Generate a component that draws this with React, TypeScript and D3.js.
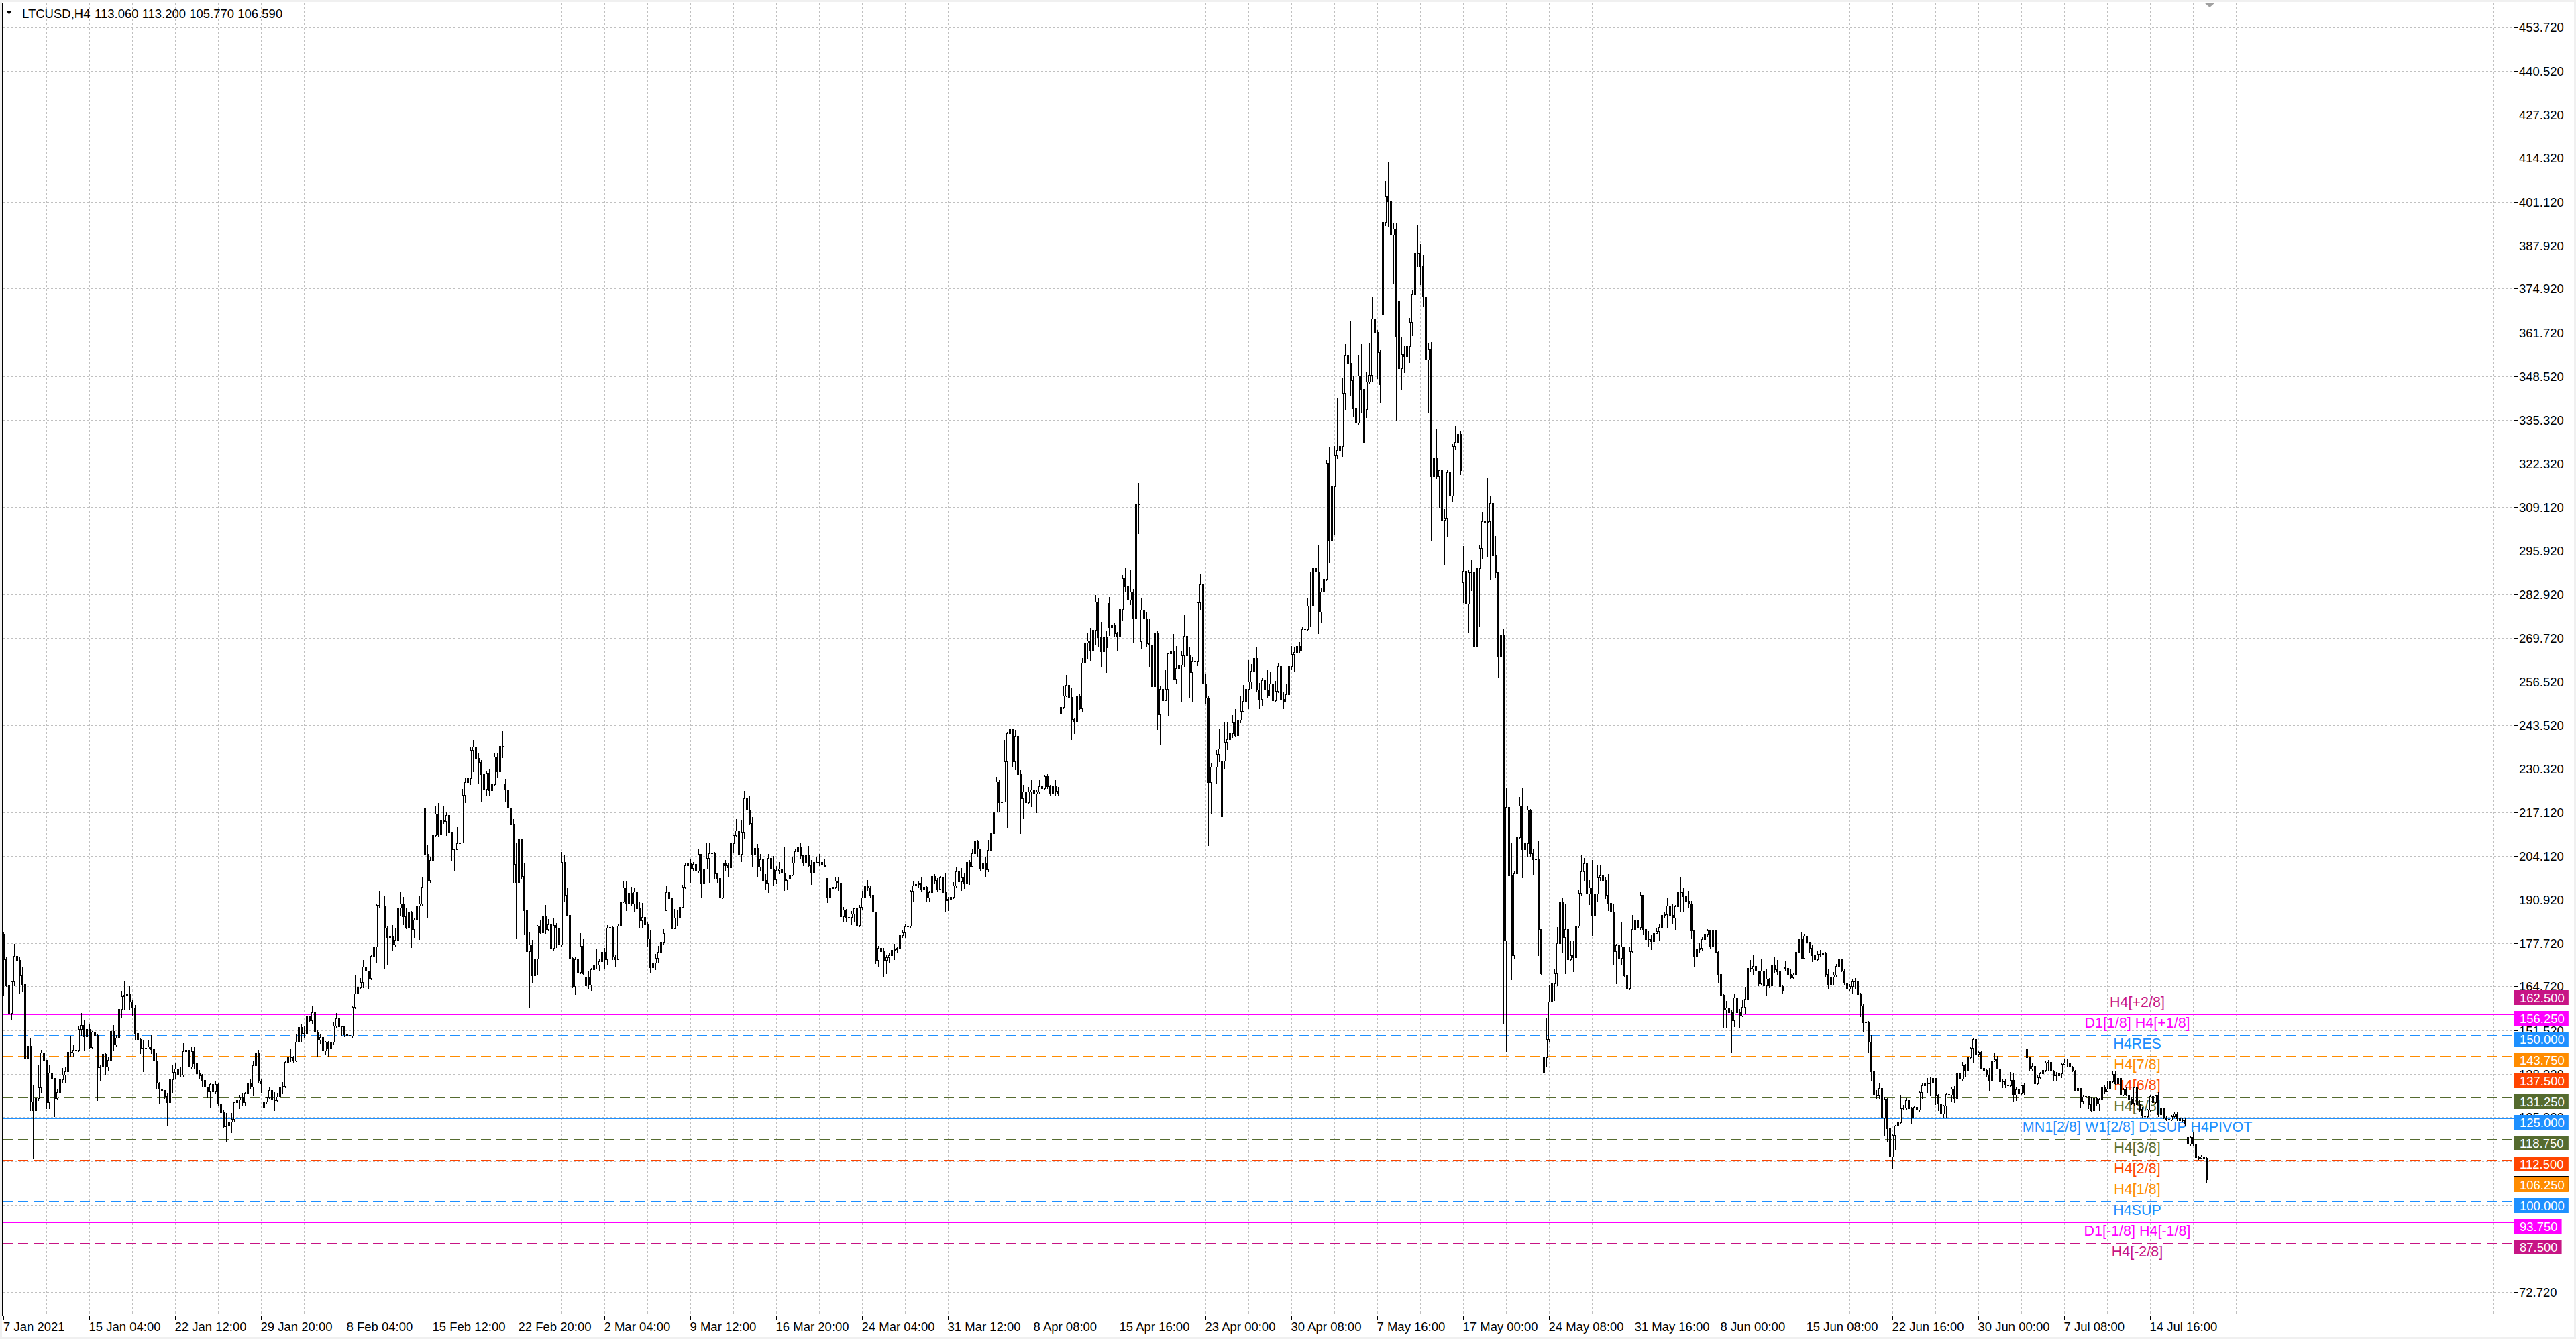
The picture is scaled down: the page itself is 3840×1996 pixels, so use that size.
import React from "react";
import * as d3 from "d3";

const chartSymbol = "LTCUSD,H4";
const lastBarOHLC = ["113.060", "113.200", "105.770", "106.590"];
const currentPrice = 106.59;

const firstOpen = 180.6;
// one row per H4 bar: [close, high, low]; open = previous close unless listed in gapOpens
const barsCHL: number[][] = [
[172.9,181,162],[165.1,173.5,164.8],[156.7,166,149.6],[166.2,166.5,154.7],[174,177.5,165],[172.6,181.3,167],[168,173.5,162.7],[165.5,170.4,163.1],[142.9,166.2,124.4],[146.8,147.6,134.5],
[130.1,149,127.4],[127.4,134.8,113],[131,132.8,120.3],[134.2,141,130.5],[144.9,145.6,132.8],[142.6,147.1,137.2],[129.8,142.6,128.1],[138.7,141.2,128.1],[137.2,140.6,134.5],[131.1,137.2,125.7],
[132.9,133.8,130.8],[136.7,139.9,132.9],[138.2,140.2,136],[139.1,140.5,136],[145.1,145.9,138.7],[144.9,149.7,143.6],[145.7,147,143.6],[145.7,149,145],[151.9,152.7,145.3],[153,156.7,150],
[149.6,154.7,145.6],[151.9,155.4,148.1],[146.5,153.4,146],[151,151.3,146],[150,151.2,149.5],[140.4,150.3,130.5],[140.5,141.2,136.5],[144.5,145.5,140],[140.5,144.6,138.4],[142.5,143.3,139.4],
[151.3,154.8,139.9],[147.3,153,145.6],[149.3,150,146.6],[157.9,158.4,148.7],[161.8,163.4,155.4],[162.1,166.4,157.7],[162.5,164.8,157.4],[160.1,164.8,157.7],[158.4,160.5,156],[150.7,159.1,148.6],
[148.9,154.4,145],[146.3,149,144.7],[146.3,148.6,139.2],[146.1,146.5,138],[146.6,148.6,146],[145.9,150,144.6],[142.4,146,140.6],[135.8,144.7,133.8],[133.8,136,129.4],[133.5,135,129.4],
[131.7,133.5,131.1],[129.8,132.5,122.9],[136.7,136.9,129.4],[139,141.2,132.8],[139.9,141.7,137.2],[138.2,141,137.2],[138.2,140.6,137.5],[145.3,147.6,137.5],[145.6,147.6,144.2],[140.5,146.6,139.9],
[145.3,146.6,139.9],[141.6,146.6,139.9],[138.5,142,136.9],[138,139.6,136.9],[136.5,138.3,134.5],[134.4,136.6,133.2],[133.1,134.5,131.3],[135.3,135.5,128.3],[133.1,136.4,132.7],[135.3,136.2,132.5],
[129.5,135.8,128.8],[126.9,130,126.1],[122.5,127.4,122.4],[122.8,126.7,118],[123.9,125.1,120.3],[124.7,126.7,120.7],[129.8,129.9,124.2],[130.6,131.8,128.3],[131.3,131.8,128],[129.8,132.6,128.8],
[132.5,132.8,128.8],[135.6,138.5,132.5],[134.5,137,133.8],[140.9,142.2,131.8],[144.7,145.6,137],[136.3,145.6,135.9],[135.5,136.7,132.8],[130.1,134.5,125.9],[131.3,131.5,129.5],[133.5,134.5,131.1],
[130.6,136.5,130.5],[130.5,132.8,127.4],[131.5,132.4,130.1],[134.4,135.5,130.4],[134.6,136,132.5],[141.9,142.3,134.3],[143.4,145.4,140.6],[143.5,145.8,142.2],[142.3,143.8,141.9],[148,150.2,142.1],
[152.4,155.2,147.3],[150.7,153.3,148.3],[150.7,152.9,149.3],[155.7,155.9,149.5],[154.6,156,154],[157,158.7,153.7],[151.1,157.3,148.9],[148.7,151.5,143.6],[149.5,150.2,147.6],[145.4,149.8,141],
[148,148.2,144.5],[146,148.3,143.5],[148,148.3,145],[152.9,153.9,147.5],[155.2,156.8,152.4],[152.6,156.1,150],[152.6,152.8,149.8],[150.2,152.6,149.6],[150,152.4,147.6],[149.8,151,149.2],
[158.5,159,149.2],[162.5,168.2,158.1],[164.5,165.1,160.8],[166,167.3,164.2],[170.6,172.7,164.5],[169.5,174.5,167.7],[167.3,169.5,164.3],[173.9,174.3,166.9],[176.8,178,173.7],[189.2,189.6,172.1],
[189,193.6,188.4],[189,195.2,188.4],[182.4,192,170.1],[179.6,182.8,171.4],[180,181.8,174.5],[177.3,183.3,175.6],[178.7,182.4,177],[188.5,188.8,178.3],[189.7,193.4,186.2],[185.9,191.6,183.5],
[182.4,188.4,182.2],[187.1,188.4,183.1],[182,187.5,176.5],[184.8,185.3,179.6],[189,189.6,184.4],[189.7,192,178.9],[194.7,197.8,189.2],[204.6,218.6,204],[196.7,207.2,185.4],[202.8,203.7,196.2],
[210.3,212.4,202.4],[216.7,219.2,209.8],[210.7,219.9,210.1],[214.8,215.3,200.6],[214.6,219,213.8],[216.4,217.4,210.3],[211.3,221.8,210.3],[206.1,211.3,202.8],[206.1,206.3,199.7],[207.8,212.7,206.7],
[208.1,214.4,203.4],[222.4,224.3,208],[226.2,227.4,220.1],[227.4,232.3,224.1],[235.9,237,225.6],[237,239,229.5],[233.5,237.4,227.3],[232.3,235,226],[228.7,233,220.6],[224.3,231.7,223],
[228.8,229.4,222.3],[223.8,230.2,222.5],[225.6,227.4,219.9],[233.9,235.2,225.2],[229.4,235.2,227.8],[237.2,237.4,226.7],[237.2,241.6,233.7],[224,227.3,220.5],[218.6,226.2,217.3],[213.6,218.6,211.8],
[201.5,215.1,196.1],[196.2,207.8,179.2],[209.2,209.4,193.6],[198,208.5,197.1],[187.6,201.7,180.3],[175.4,194.3,156.6],[177.3,180.9,158.6],[168,178.7,166],[173,174.2,160.1],[183.1,183.3,168.4],
[180.9,184.7,180.5],[186,188.8,180.5],[182,189.2,180.5],[183.5,185.1,181.5],[176.4,185,172.6],[183.3,185.3,175.5],[182.3,183.8,176.5],[177.3,183.4,175],[202.3,205.2,177],[192.2,204.2,190.4],
[186.2,194.5,186],[173.2,187.7,169.4],[164.8,173.6,164.5],[172.9,173.7,162.3],[169,173.6,168.8],[176.9,180.7,168.7],[168.7,179,168.5],[167.7,168.9,164.1],[165.2,169.5,164.1],[169.9,170.3,163.6],
[171.2,173.7,169.2],[171.2,176.1,170.2],[172.2,172.9,169.5],[175.1,179.3,172.2],[172.8,176.3,170.2],[182.3,183.3,171.2],[182.5,184.7,176.3],[173.7,182.9,172.9],[172.8,174.2,170.8],[183,183.7,173.6],
[190.3,191.4,181.1],[194.6,196.3,190.1],[189.7,196.4,187.7],[192.9,194.1,186.5],[189.7,194.7,189.3],[193.3,194.5,187.4],[188.3,194.5,183],[184.7,190.1,182.3],[185.6,189.8,182.3],[183.4,189.2,182.3],
[179.1,184.2,177],[170.5,181.7,169],[171.9,173.6,168.5],[173.4,174.6,169.9],[175.1,176.9,171.9],[178.2,178.9,171],[180.7,182,177.6],[193.1,195.1,187.6],[191.2,193.3,191.1],[182.2,191.4,179.3],
[185.4,188,182.1],[185.5,187.7,183],[188.6,190.1,185.3],[194.7,195.3,188.4],[201.2,201.7,194.4],[201.8,204.8,200.9],[200.3,203,196],[201.5,202.2,199.8],[199.5,201.8,198.8],[204.6,206,199.2],
[195.8,203.9,191.4],[200.2,201.2,195.4],[203.4,207.8,200.2],[204.9,208.1,196.1],[205,208,204.2],[198.8,205.2,197.1],[197.3,198.8,196.1],[191.4,199.5,191.1],[201.9,202,191.2],[201.2,202.9,199.5],
[200.5,201.9,197.8],[207.8,210.3,199.3],[210.2,210.5,205.2],[211.8,215.2,209.9],[204.6,212.1,200.9],[211.2,214.7,202.5],[221.4,223.6,209.4],[217.9,220.2,212.5],[213.9,222.2,213.5],[204.7,215.7,200.9],
[206.4,207.6,200.9],[200.7,207.6,197.7],[203,204.7,199.5],[196.8,202.8,191.4],[195.7,198.5,193.9],[203.4,204.7,193.1],[200.1,204,197.5],[197,204,195.1],[199.8,200.9,195.8],[200.1,202.2,198.8],
[199,200.2,198.2],[196.8,206.6,193.8],[197.1,197.2,193.9],[198.3,198.7,196.8],[202,203.9,198.2],[205.5,206.2,203.2],[206.9,208.3,205.1],[204.2,207.9,203.2],[202.2,204.4,201.2],[204.2,207.9,202.2],
[201.2,207.1,200.8],[199,202.9,195.5],[202.2,202.7,198.8],[202.2,203.6,201.9],[202.2,204.7,201.2],[201.3,204,200.8],[200.9,203.2,200.7],[191.6,197.3,190],[194.3,195.3,190.9],[194.7,198.5,192.1],
[196.5,197.8,194.3],[196,197.8,193.8],[185.9,196.3,185.5],[187.8,188.7,184.5],[185.5,188,184.2],[185.6,186,182.5],[186.7,187.5,183.4],[188.2,188.5,184.3],[183.2,188.6,183],[188.7,189.2,182.7],
[191.4,193.5,188.1],[195.2,196.3,189.7],[194.5,196.8,193.7],[192.2,195,191.7],[187.2,192.2,184.2],[172.6,187.2,171.6],[176.4,176.9,170.6],[175.4,177.7,171.6],[172.6,176.4,167.6],[173.6,174.1,168.6],
[174.1,174.8,171.9],[175.8,176.8,172.2],[176,177.6,172.8],[176.3,176.5,175],[180.2,181.7,176],[180.9,181.5,179.5],[182.7,183.5,179.5],[182.9,184,181.5],[193.5,193.9,182.4],[195.2,196.5,190.2],
[195.5,196.9,194.2],[195.8,196.5,194.6],[193.9,197.6,193.5],[194.7,195.7,193.7],[191.4,194.9,190.2],[193.2,193.5,190.2],[197.9,200.3,193],[196.8,198.5,195.8],[194.2,197.3,193.5],[197.5,197.9,194],
[193.2,197.7,190.7],[190.7,198.8,187.2],[191.1,191.6,187.6],[191.7,192.7,190.8],[195.2,196.2,191.2],[199.3,200.8,194.7],[196.3,199.7,194.3],[197.5,200.3,193.8],[195.8,198.8,194.3],[202.3,204.8,194.3],
[201,202.8,195.6],[204.8,206.3,201],[208.6,211.6,201.4],[206.3,208.8,203.8],[200.3,206.3,199.8],[202,207.3,198.6],[200,203.7,197.9],[205.8,208.8,199.3],[210.8,212.8,205.3],[217.4,220.4,210.3],
[226.4,227.9,217.4],[220.1,226.9,217.4],[220.4,222.3,218.1],[232.5,239,220.4],[241,241.5,212.8],[242.5,244,230.4],[232.5,242.5,230.9],[240.2,242,230.1],[228.7,242.5,225.9],[221.4,229.9,210.8],
[223.4,225.4,215.4],[220.1,223.4,213.3],[223.4,224.9,219.9],[224.1,226.9,218.9],[222.9,227.4,221.4],[223.4,223.9,217.2],[225.1,226.9,222.9],[224.4,225.4,221.2],[228.1,228.4,224.1],[225.1,228.7,224.4],
[223.1,225.4,222.4],[225.1,228.7,222.9],[223.7,227.1,222.4],[222.9,224.9,222.4],[248.8,255.6,246.2],[252.3,255.3,248.5],[255.6,258.6,252.2],[251.9,255.9,243.5],[245.2,254.6,239.2],[244.5,245.5,241],
[252.1,252.3,243],[248.5,253,248.3],[262.3,263.6,247.5],[268.3,269,260.9],[268.9,271.4,263.6],[266.1,272.7,263.1],[272.2,272.7,260.6],[280.7,282.7,267.6],[270,281.9,267.3],[265.6,274.6,261.3],
[270,271.2,254.9],[266.9,271.7,259.3],[273,282,270.5],[273.7,279.2,270.7],[271.1,274.3,270.2],[270.3,271.5,265.8],[278.4,284.3,269.9],[287.6,288.7,275.1],[285.2,291,283.9],[281.2,296.7,278.9],
[283.7,290.2,279.9],[275.5,284.5,268.2],[310,314.4,265],[310,316.3,301.2],[278.2,281.6,266.5],[275.5,281.6,272.2],[268,277.5,267.2],[267.7,275.3,261],[255.2,270.6,250.5],[271.1,273.4,252],
[246.6,271.7,242.3],[254.4,255.1,237.6],[251,257.3,234.5],[254.4,260,251.1],[265,265.2,246.4],[265.8,272.7,253.6],[257.4,270.9,257.2],[260.6,267.2,256.2],[261.6,265.2,255.9],[264.4,265.7,250.7],
[270.3,276.5,261.1],[264.4,275.8,262.9],[259.3,266.8,252],[262.7,263.9,250.7],[262.7,268.6,258],[280.4,280.6,261.4],[285.8,289.2,278.4],[255.9,286.4,255.7],[251.8,258.8,250],[226.3,252.1,207.2],
[230.9,231.9,217],[230.9,239.2,223.7],[234.8,236,225.8],[236.3,242.3,232.5],[232.8,234.8,215],[238.3,244.3,230.5],[239.2,244.3,236.1],[241,246.4,237.1],[244.3,246.4,239.7],[240.4,248.3,239.9],
[245.1,249.5,239],[247.6,252.4,244.3],[250.7,255.5,247.4],[254.4,258.9,250.5],[256.5,263,248.5],[259.8,261.8,254.6],[263.7,264.4,257.5],[254.1,266.8,253.6],[251.4,256.2,248.5],[256.9,257.7,249.5],
[254.1,257.7,250.3],[252.4,260.3,251.7],[255.9,259.3,253.6],[251,257.7,250.3],[253.8,256.7,250.8],[261.3,262.3,253.4],[251.3,262,251],[250.5,253.3,248.5],[252.8,255.7,250.5],[261.3,262,252.4],
[264.9,267.2,260.3],[265.5,267,259.8],[267.2,270.1,265.3],[265.8,268.5,265.5],[272.4,273.2,266.8],[272.4,273.2,271.7],[279.4,281.6,272.2],[279.4,289.7,273.2],[290.7,294.6,273],[289.7,299.2,286.6],
[277.5,297.7,271.1],[283.7,284.7,274.4],[287.4,288.1,281.4],[322.5,323.2,287.1],[299,327.3,292.6],[315.3,316.3,299],[324.8,327.6,301],[326.3,341.8,323.9],[327.6,335.9,322.5],[343.5,348,324.4],
[354.9,358.3,338.7],[352.6,361,347.4],[347.4,365,342.8],[339,348.5,336.3],[334.6,340.1,326],[348.7,354.9,333.9],[344.6,358.3,337.7],[328.7,345.4,318.6],[346.9,349.7,336.1],[349,358.6,346.5],
[366,372.3,347],[361.9,369.7,351.7],[355.8,362.4,347.9],[346.1,356.4,340.7],[395.1,398.3,365.1],[402.8,407.3,394],[401.2,413.1,393.5],[391.1,407,377.3],[392.9,394.9,376.4],[360.5,394.9,335.2],
[350.9,375,344.5],[355.1,360.4,344.5],[354.5,357.6,349.8],[357.6,362.3,348.2],[364.8,366.2,352.7],[373.1,374.4,360.8],[385.8,390.1,368.1],[385.8,393.9,381.6],[381.6,388.3,376.2],[372.6,385.2,369.5],
[353.6,374.9,342.5],[356.9,358.7,337.8],[318.5,358.8,299.2],[323.9,332,317.8],[318.5,332.5,317.9],[320.3,320.5,309],[305.3,326.2,304.6],[305.8,308.5,291.9],[319.7,320.3,300.4],[312.5,320.8,311.8],
[327.5,328.1,310.7],[328.7,333.5,326.5],[331.1,338.8,323.3],[320.3,332,319],[290,297.3,280.5],[280,290.4,265.2],[289.6,290.1,271.5],[289.6,293.2,284],[267,292.3,266.6],[290.8,295,261.6],
[296.8,297.6,273.3],[304.9,307.6,293.7],[304.6,308.5,301],[304.9,317.9,294.1],[310.3,312.5,287.2],[294.5,310.3,289.6],[289.6,300.4,287.8],[264.3,289.6,258],[270.6,272.4,258.4],[178.6,272.4,153.4],
[218.7,224.6,145.2],[198.1,224.6,197.6],[174.1,207.8,166.9],[198.8,199.4,173.2],[209.6,218.6,197],[219.2,221.9,209.3],[206,224.6,197.6],[207.8,212.9,202.1],[217.9,219.2,203.9],[204.8,218.2,203.9],
[203,206.3,198.5],[203,210.1,202.1],[181.9,208.6,174.1],[168.7,181.9,168.2],[143.4,148.3,138.6],[148.8,155.2,140.7],[160.2,165,148.2],[165.6,168.7,155.5],[168.7,170,160.6],[177.7,182.6,165.1],
[190.3,194.8,175],[179.5,191.2,175],[181.9,189.7,168.7],[172.8,182.3,167.4],[174.1,178.6,172.7],[173.6,178.3,169.3],[183.1,185.1,172.7],[193,193.9,182.6],[199.4,204.2,192.1],[201.7,203.5,196.5],
[192.7,202.1,189.6],[194.5,196.7,189.4],[186.2,202.8,180],[192.7,194.8,186],[197.6,201.3,190.3],[198.1,201.3,196.6],[196.7,208.9,192.1],[192.2,197.6,191.2],[189.8,198.5,187.6],[187.3,190.8,184.1],
[175.4,189.6,171.4],[177.2,177.5,165.6],[173.2,181.6,172.3],[176.8,184.1,171.4],[168.1,173.6,167.8],[164.2,169,163.8],[175.4,176.8,163.8],[181.9,186.3,175],[184.9,186.7,180.8],[182.6,186.7,181.3],
[192.2,193.1,182],[181.9,192.2,180.4],[179,187.3,176.4],[179,181.3,176.8],[178.3,180.1,175.9],[180.8,181.3,177.5],[181.3,182.4,180.5],[182.6,183.7,178.6],[186.2,186.7,182.4],[186.5,187.3,185.5],
[189.1,191.2,182.4],[186.2,189.5,184.9],[185.5,189.5,183.8],[188.9,189.2,181.8],[193.2,194.5,188.7],[193.4,197.5,187.4],[191.8,194.5,187.4],[190.4,192.1,188.7],[189.7,193.6,188.7],[181.5,190.4,179.3],
[173.8,181.6,170.7],[175.9,177.8,169],[176.4,177.8,175],[178.9,179.6,175.6],[180.4,181.8,172.6],[181.5,182,179.8],[176.8,179.5,176.4],[181.5,181.8,176.4],[175.2,181.6,174.9],[168.5,175.5,165.8],
[162.1,169,160.1],[157.7,162.4,152.3],[158.4,160.4,152.5],[157,160.1,154.6],[154.6,157.7,145],[161.3,162.5,152.7],[157,162.5,156.7],[156,157.9,152.3],[158.6,160.7,155.7],[160.9,164.5,156.7],
[170.2,172.6,160.8],[170,172.6,169.2],[170.9,174.1,168.5],[169.4,174.1,168.3],[165.6,169.5,165.1],[169.5,173,165.5],[165.1,169.5,164.8],[167,169.8,162],[165.1,167.3,164.5],[171,172.2,164.5],
[169.9,173.6,168.8],[169.2,172.6,168.2],[164.8,169.5,164.1],[163.6,165.1,162.8],[170.2,172.2,169.5],[168.5,170.2,167.5],[167.5,169.9,167.2],[168.2,168.6,167.3],[175.2,175.6,167.8],[179.1,180.6,174.9],
[173.4,181,173],[180,180.6,173.2],[178.1,180.8,177.6],[176.4,178.1,175.2],[174.1,177.2,172.2],[172.8,175.6,171.9],[174.6,175.6,172.4],[174.5,175.8,173.9],[174.8,176.9,173.2],[168.5,175.2,167.8],
[165.3,170.1,164.3],[167.6,168.2,164.3],[168.3,169.1,165.5],[170.9,171.5,167.8],[172.9,173.6,170.4],[169.5,173,169.2],[165.8,169.9,165.5],[164,166.3,162.8],[164.9,165.5,163.5],[166.2,166.9,162.5],
[166.5,167.2,164.1],[162.4,166.8,161.3],[158.9,162.8,155.7],[153.9,159.4,151.2],[154.2,156,153.7],[148.1,154.4,145.1],[139.1,150,136.5],[132.1,139.5,127.7],[131.9,133.4,131.1],[134.1,135.5,131.1],
[125.1,134.3,120],[130.8,131.2,120],[122,131,118],[113.5,122.5,106.5],[120,120.4,110],[122.7,123,115.7],[123.7,124.4,115.6],[128.1,131.8,123.4],[128.3,129.1,127.8],[130.4,131.1,127.8],
[128.1,133.2,126.1],[125.1,128.4,123.4],[128.4,128.6,125.1],[127.6,128.6,123.4],[132.8,133.1,127.3],[134.8,135.5,131],[135.7,136,133.5],[135.5,137.2,132.8],[135.8,137.5,131.8],[137.2,138.4,132.6],
[131.8,136.9,129.2],[129.4,132.2,127.4],[126.4,129.4,124.7],[128.8,129.1,125.4],[132.2,132.5,125.2],[132.1,133.2,130.2],[133.9,134.5,130.3],[131.1,134.6,129.8],[138.5,138.6,130.8],[136.9,139.2,136.7],
[140.9,142,136.5],[139.3,141.3,137.5],[143.3,143.8,137.9],[146.3,146.5,142.9],[148.8,149,141.9],[144.3,149,143.9],[145.1,145.4,143.6],[140.2,145.4,140],[139.5,142.6,139.2],[138.2,139.7,137.7],
[136.6,140.2,133.3],[142.4,142.9,136.5],[142.7,144.6,142.2],[140,143.8,139.9],[136.2,140.2,136],[136.3,137,134.2],[135.2,136.9,134.2],[134.8,136.3,134],[136.5,138.9,134.4],[132.1,138.7,130.3],
[133.7,134.2,130.4],[132.5,134,130.4],[134.8,135.2,132.2],[132.6,135.8,132.1],[143.4,147.8,143.3],[139.9,143.6,139.6],[140.7,141.6,139.3],[135.5,140.8,133.5],[137.3,137.9,135.2],[138.5,138.9,136.9],
[139.6,140.6,137.5],[141.8,142.2,139.2],[141.9,142.6,139.3],[139.3,142.6,139.2],[138,139.6,136.5],[137.9,138.9,136.5],[138.5,138.9,137.5],[141.4,141.6,137.3],[141.8,142.9,141.2],[141.8,142.7,140.7],
[140.6,142.2,140.2],[139.3,140.7,139.2],[133.5,139.5,133.3],[134.1,134.8,133.3],[130.3,134.1,128.3],[131.5,131.8,129.5],[131.7,132.2,129.1],[129.2,131.7,128.1],[127.5,131.2,127.2],[131,131.5,125.6],
[129.4,131.3,129],[130.8,131.1,127.4],[134.5,135,130.6],[133,134.8,132.5],[133.9,136.2,133],[136.2,136.5,133.5],[138.4,139.3,135.9],[135.5,139.2,135.1],[137.2,137.8,135.3],[132.1,137.2,131.6],
[133.7,134.1,131.8],[132.1,134.5,131.8],[130.8,133.5,129.8],[129.6,131.2,129.2],[134.2,134.2,129.1],[129.2,134.4,129],[127.9,130.6,127.1],[125.9,128.4,125.4],[125.6,126.4,124.4],[127.6,127.9,125.4],
[131.7,132.1,127.1],[129.8,131.8,129.2],[131.8,132.1,129.5],[126.3,132.8,125.7],[128,129.2,127.7],[125.1,128.3,124.9],[124.8,125.7,124.3],[124.6,125.1,124.4],[125.7,126.1,124.3],[126.5,126.9,125.4],
[124.9,126.9,124.4],[124.4,125.4,120.4],[124.3,124.9,124.1],[123.6,125.2,122.7],[117.3,119.8,117],[119.3,119.7,117],[117.3,120.7,117],[113.3,117.8,112.6],[113.1,113.7,112.6],[113.5,113.9,112.9],
[113.06,113.9,112.4],[106.59,113.2,105.77]
];

// [bar index, open] where the bar opened away from the previous close (weekend gaps)
const gapOpens: number[][] = [
[97,128.4],[157,218.6],[187,225.9],[217,165.0],[247,187.6],[307,197.3],[394,247.0],[412,280.2],[424,268.6],
[454,216.0],[508,338.7],[514,367.3],[520,371.2],[544,286.5],[574,138.9],[664,170.5],[754,146.1],[814,119.3]
];

const timeLabels = [
"7 Jan 2021","15 Jan 04:00","22 Jan 12:00","29 Jan 20:00","8 Feb 04:00","15 Feb 12:00","22 Feb 20:00",
"2 Mar 04:00","9 Mar 12:00","16 Mar 20:00","24 Mar 04:00","31 Mar 12:00","8 Apr 08:00","15 Apr 16:00",
"23 Apr 00:00","30 Apr 08:00","7 May 16:00","17 May 00:00","24 May 08:00","31 May 16:00","8 Jun 00:00",
"15 Jun 08:00","22 Jun 16:00","30 Jun 00:00","7 Jul 08:00","14 Jul 16:00"
];

const priceTicks = [
453.72,440.52,427.32,414.32,401.12,387.92,374.92,361.72,348.52,335.32,322.32,309.12,295.92,282.92,269.72,
256.52,243.52,230.32,217.12,204.12,190.92,177.72,164.72,151.52,138.32,125.32,112.12,98.92,85.92,72.72
];

const levelPrices = [162.5,156.25,150,143.75,137.5,131.25,125,118.75,112.5,106.25,100,93.75,87.5];
const levelNames = [
"H4[+2/8]","D1[1/8] H4[+1/8]","H4RES","H4[7/8]","H4[6/8]","H4[5/8]",
"MN1[2/8] W1[2/8] D1SUP H4PIVOT","H4[3/8]","H4[2/8]","H4[1/8]","H4SUP","D1[-1/8] H4[-1/8]","H4[-2/8]"
];

// ---- styles (kept apart from the data) ----
const levelStyle = [
  { color: "#C71585", dash: "15,8", w: 1 },
  { color: "#FF00FF", dash: "", w: 1.3 },
  { color: "#1E90FF", dash: "15,8", w: 1 },
  { color: "#FF8C00", dash: "15,8", w: 1 },
  { color: "#FF4500", dash: "15,8", w: 1 },
  { color: "#556B2F", dash: "15,8", w: 1 },
  { color: "#1E90FF", dash: "", w: 2.2 },
  { color: "#556B2F", dash: "15,8", w: 1 },
  { color: "#FF4500", dash: "15,8", w: 1 },
  { color: "#FF8C00", dash: "15,8", w: 1 },
  { color: "#1E90FF", dash: "15,8", w: 1 },
  { color: "#FF00FF", dash: "", w: 1.3 },
  { color: "#C71585", dash: "15,8", w: 1 },
];

const FONT = "'Liberation Sans', Arial, Helvetica, sans-serif";
const W = 3840;
const H = 1996;
const PL = 3.5, PT = 4.5, PR = 3747.5, PB = 1961.5;
const AX_FS = 18.5;

function numWidth(s: string, fs: number) {
  let w = 0;
  for (const ch of s) w += ch === "." ? 0.278 : 0.556;
  return w * fs;
}

export default function App() {
  const x = d3.scaleLinear().domain([0, 935]).range([5, 3745]);
  const y = d3.scaleLinear().domain([65.58, 460.89]).range([1961, 5]);

  const gapMap = new Map<number, number>(gapOpens.map((g) => [g[0], g[1]] as [number, number]));
  const candles = barsCHL.map((row, k) => {
    const [c, h, l] = row;
    const o = gapMap.has(k) ? (gapMap.get(k) as number) : k === 0 ? firstOpen : barsCHL[k - 1][0];
    return { k, o, c, h: Math.max(h, o, c), l: Math.min(l, o, c) };
  });

  const vGrid = d3.range(1, 59).map((j) => Math.round(x(j * 16)) + 0.5);

  // vertical extent of the price tags on the axis (they hide axis labels beneath them)
  const tagBands = [currentPrice, ...levelPrices].map((p) => {
    const yy = Math.round(y(p));
    return [yy - 5, yy + 17];
  });
  const hiddenByTag = (ty: number) => tagBands.some(([a, b]) => ty - 5 >= a && ty + 5 <= b);

  return (
    <div style={{ position: "absolute", left: 0, top: 0, width: W, height: H }}>
      <svg width={W} height={H} viewBox={`0 0 ${W} ${H}`} style={{ display: "block" }} fontFamily={FONT}>
        <rect x={0} y={0} width={W} height={H} fill="#F0F0F0" />
        <rect x={3} y={3} width={W - 6} height={H - 6} fill="#FFFFFF" />

        {/* grid */}
        <g stroke="#C0C0C0" strokeWidth={1} strokeDasharray="3,3" shapeRendering="crispEdges">
          {priceTicks.map((p, i) => {
            const yy = Math.round(y(p)) + 0.5;
            return <line key={"hg" + i} x1={PL} x2={PR} y1={yy} y2={yy} />;
          })}
          {vGrid.map((xx, i) => (
            <line key={"vg" + i} x1={xx} x2={xx} y1={PT} y2={PB} />
          ))}
        </g>

        {/* level lines */}
        <g shapeRendering="crispEdges">
          {levelPrices.map((p, i) => {
            const st = levelStyle[i];
            const yy = Math.round(y(p)) + (st.w > 1.5 ? 0 : 0.5);
            return (
              <line key={"lv" + i} x1={PL} x2={PR} y1={yy} y2={yy} stroke={st.color}
                strokeWidth={st.w} strokeDasharray={st.dash || undefined} />
            );
          })}
        </g>

        {/* level names */}
        <g fontSize={21.5} textAnchor="middle">
          {levelPrices.map((p, i) => (
            <text key={"ln" + i} x={3186} y={y(p) + 20} fill={levelStyle[i].color}>{levelNames[i]}</text>
          ))}
        </g>

        {/* candles */}
        <g shapeRendering="crispEdges">
          {candles.map((d) => {
            const xc = Math.round(x(d.k));
            const top = Math.round(y(Math.max(d.o, d.c)));
            const bot = Math.round(y(Math.min(d.o, d.c)));
            const yh = Math.round(y(d.h));
            const yl = Math.round(y(d.l));
            const bull = d.c >= d.o;
            return (
              <g key={"c" + d.k}>
                <line x1={xc + 0.5} x2={xc + 0.5} y1={yh} y2={yl + 1} stroke="#000" strokeWidth={1} />
                {bot - top < 2 ? (
                  <rect x={xc - 1} y={top} width={3} height={Math.max(1, bot - top + 1)} fill="#000" />
                ) : bull ? (
                  <rect x={xc - 0.5} y={top + 0.5} width={2} height={bot - top} fill="#FFF" stroke="#000" strokeWidth={1} />
                ) : (
                  <rect x={xc - 1} y={top} width={3} height={bot - top + 1} fill="#000" />
                )}
              </g>
            );
          })}
        </g>

        {/* frame */}
        <g stroke="#000" strokeWidth={1} shapeRendering="crispEdges" fill="none">
          <line x1={PL} x2={PR} y1={PT} y2={PT} />
          <line x1={PL} x2={PL} y1={PT} y2={PB} />
          <line x1={PR} x2={PR} y1={PT} y2={PB + 1} />
          <line x1={PL} x2={PR} y1={PB} y2={PB} />
        </g>

        {/* chart shift marker */}
        <polygon points="3286,4 3302,4 3294,11" fill="#A0A0A0" />

        {/* right price axis */}
        <g fontSize={AX_FS} fill="#000">
          {priceTicks.map((p, i) => {
            const yy = Math.round(y(p)) + 0.5;
            return (
              <g key={"pt" + i}>
                <line x1={PR} x2={PR + 5} y1={yy} y2={yy} stroke="#000" shapeRendering="crispEdges" />
                {hiddenByTag(yy) ? null : <text x={3755} y={yy + 6.5}>{p.toFixed(3)}</text>}
              </g>
            );
          })}
        </g>

        {/* time axis */}
        <g fontSize={AX_FS} fill="#000">
          {timeLabels.map((t, j) => {
            const xx = Math.round(x(j * 32)) + 0.5;
            return (
              <g key={"tl" + j}>
                <line x1={xx} x2={xx} y1={PB} y2={PB + 5} stroke="#000" shapeRendering="crispEdges" />
                <text x={Math.max(5, xx - 1)} y={1984}>{t}</text>
              </g>
            );
          })}
        </g>

        {/* price tags on the axis */}
        <g fontSize={AX_FS}>
          {(() => {
            const s = currentPrice.toFixed(3);
            const yy = Math.round(y(currentPrice));
            return (
              <g>
                <rect x={3748} y={yy - 5} width={numWidth(s, AX_FS) + 14} height={22} fill="#000" />
                <text x={3756} y={yy + 13} fill="#FFF">{s}</text>
              </g>
            );
          })()}
          {levelPrices.map((p, i) => {
            const s = p.toFixed(3);
            const yy = Math.round(y(p));
            return (
              <g key={"tag" + i}>
                <rect x={3748} y={yy - 5} width={numWidth(s, AX_FS) + 14} height={22} fill={levelStyle[i].color} />
                <text x={3756} y={yy + 13} fill="#FFF">{s}</text>
              </g>
            );
          })}
        </g>

        {/* header */}
        <polygon points="9,16 18,16 13.5,21.5" fill="#000" />
        <text x={33} y={27} fontSize={AX_FS} fill="#000">{chartSymbol}</text>
        <text x={141} y={27} fontSize={AX_FS} fill="#000">{lastBarOHLC.join(" ")}</text>
      </svg>
    </div>
  );
}
